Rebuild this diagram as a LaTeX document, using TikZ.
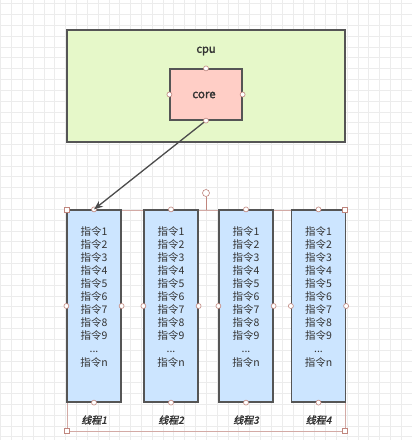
\documentclass[tikz,border=0pt]{standalone}
\usepackage{fontspec}
\setmainfont{Noto Sans CJK SC}
\newfontfamily\cjkb{Noto Sans CJK SC}[FakeBold=1.8]
\newfontfamily\cjkbi{Noto Sans CJK SC}[FakeBold=1.8,FakeSlant=0.22]
\usetikzlibrary{arrows.meta}
\definecolor{gridc}{HTML}{ECECEC}
\definecolor{cpufill}{HTML}{E6F8C9}
\definecolor{corefill}{HTML}{FFCEC6}
\definecolor{thfill}{HTML}{CCE5FF}
\definecolor{edge}{HTML}{555555}
\definecolor{txt}{HTML}{333333}
\definecolor{hdl}{HTML}{C0867E}
\tikzset{
  box/.style={draw=edge, line width=1.4pt, inner sep=0pt},
  cpubox/.style={box, fill=cpufill, minimum width=278pt, minimum height=112pt},
  corebox/.style={box, fill=corefill, minimum width=72pt, minimum height=51pt, line width=1.2pt},
  thbox/.style={box, fill=thfill, minimum width=54pt, minimum height=192pt, line width=1.2pt},
  instr/.style={text=txt, align=center, font=\fontsize{10.5}{13.1}\selectfont, inner sep=0pt, anchor=north},
  thlabel/.style={text=txt, font=\cjkbi\fontsize{10}{11}\selectfont},
  hcirc/.style={circle, draw=hdl, fill=white, line width=0.6pt, minimum size=5pt, inner sep=0pt},
  hsq/.style={rectangle, draw=hdl, fill=white, line width=0.6pt, minimum size=5.5pt, inner sep=0pt},
  conn/.style={draw=edge!90!black, line width=1.3pt, -{Stealth[length=9pt,width=7pt]}},
}
\begin{document}
\begin{tikzpicture}[x=1pt,y=-1pt]
\useasboundingbox (0,0) rectangle (412,440);
\fill[white] (0,0) rectangle (412,440);
% background grid
\foreach \i in {0,...,38} {
  \draw[gridc, line width=0.6pt] ({0.5+10.83*\i},0) -- ({0.5+10.83*\i},440);
}
\foreach \i in {0,...,41} {
  \draw[gridc, line width=0.6pt] (0,{3.5+10.83*\i}) -- (412,{3.5+10.83*\i});
}
% cpu and core
\node[cpubox] (cpu) at (206,86) {};
\node[text=txt, font=\cjkb\fontsize{11}{12}\selectfont] (cpulabel) at (206,51) {cpu};
\node[corebox] (core) at (206,94.5) {};
\node[text=txt, font=\cjkb\fontsize{11.5}{12}\selectfont] (corelabel) at (204,95) {core};
% selection frame
\draw[hdl!70, line width=0.6pt] (67,210) rectangle (345,431);
\coordinate (seltop) at (206,210);
\node[hcirc, minimum size=7pt] (rot) at (206,193) {};
\draw[hdl, line width=0.6pt] (rot) -- (seltop);
% threads
\foreach \n/\x in {1/94,2/171,3/246,4/318.5} {
  \node[thbox] (t\n) at (\x,306) {};
  \node[instr] (i\n) at (\x,226) {指令1\\指令2\\指令3\\指令4\\指令5\\指令6\\指令7\\指令8\\指令9\\...\\指令n};
  \node[thlabel] (l\n) at (\x,420) {线程\n};
  \node[hcirc] at (t\n.north) {};
  \node[hcirc] at (t\n.south) {};
  \node[hcirc] at (t\n.west) {};
  \node[hcirc] at (t\n.east) {};
}
\foreach \p in {(67,210),(67,431),(345,210),(345,431)} {
  \node[hsq] at \p {};
}
% connector
\draw[conn] (core.south) -- (t1.north);
% core handles
\node[hcirc] at (core.north) {};
\node[hcirc] at (core.south) {};
\node[hcirc] at (core.west) {};
\node[hcirc] at (core.east) {};
\end{tikzpicture}
\end{document}
